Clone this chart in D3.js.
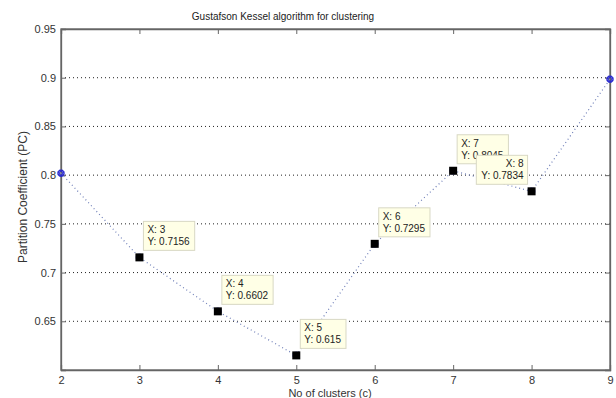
<!DOCTYPE html>
<html>
<head>
<meta charset="utf-8">
<script src="https://cdn.jsdelivr.net/npm/d3@7"></script>
<style>
  body { margin: 0; background: #fff; }
  svg { display: block; font-family: Arial, "Liberation Sans", sans-serif; }
</style>
</head>
<body>
<svg id="chart" width="616" height="398"></svg>
<script>
// data
var clusters = [2, 3, 4, 5, 6, 7, 8, 9];
var pcValues = [0.802, 0.7156, 0.6602, 0.615, 0.7295, 0.8045, 0.7834, 0.8985];
var tipClusters = [3, 4, 5, 6, 7, 8];
var tipLeft = [8]; // this tip sits left of its point
var yTicks = [0.65, 0.7, 0.75, 0.8, 0.85, 0.9, 0.95];
var yTickLabels = ["0.65", "0.7", "0.75", "0.8", "0.85", "0.9", "0.95"];
var xTicks = [2, 3, 4, 5, 6, 7, 8, 9];

var svg = d3.select("#chart");
var plotL = 61, plotR = 610, plotT = 29, plotB = 370;

var x = d3.scaleLinear().domain([2, 9]).range([plotL, plotR]);
var y = d3.scaleLinear().domain([0.6, 0.95]).range([plotB, plotT]);

var pts = clusters.map(function(c, i){ return {c: c, v: pcValues[i]}; });

// horizontal dotted grid
svg.append("g").selectAll("line").data(yTicks.slice(0, -1)).enter().append("line")
	.attr("x1", plotL).attr("x2", plotR)
	.attr("y1", function(d){ return y(d); }).attr("y2", function(d){ return y(d); })
	.attr("stroke", "#222").attr("stroke-width", 1)
	.attr("stroke-dasharray", "1,3");

// axes (ticks inward, mirrored on top/right)
var axisColor = "#666";
var xb = svg.append("g").attr("transform", "translate(0," + plotB + ")")
	.call(d3.axisBottom(x).tickValues(xTicks).tickSize(-5).tickPadding(6).tickFormat(d3.format("d")));
var xt = svg.append("g").attr("transform", "translate(0," + plotT + ")")
	.call(d3.axisTop(x).tickValues(xTicks).tickSize(-5).tickFormat(""));
var yl = svg.append("g").attr("transform", "translate(" + plotL + ",0)")
	.call(d3.axisLeft(y).tickValues(yTicks).tickSize(-5).tickPadding(5)
		.tickFormat(function(d, i){ return yTickLabels[i]; }));
var yr = svg.append("g").attr("transform", "translate(" + plotR + ",0)")
	.call(d3.axisRight(y).tickValues(yTicks).tickSize(-5).tickFormat(""));

[xb, xt, yl, yr].forEach(function(g){
	g.select(".domain").attr("stroke", axisColor).attr("stroke-width", 1.3);
	g.selectAll(".tick line").attr("stroke", axisColor);
	g.selectAll(".tick text").attr("fill", "#333").style("font-size", "11px");
});
svg.append("rect").attr("x", plotL).attr("y", plotT).attr("width", plotR - plotL).attr("height", plotB - plotT)
	.attr("fill", "none").attr("stroke", axisColor).attr("stroke-width", 1.3);

// dotted series line
var line = d3.line().x(function(d){ return x(d.c); }).y(function(d){ return y(d.v); });
svg.append("path").datum(pts)
	.attr("d", line)
	.attr("fill", "none")
	.attr("stroke", "#6f7fb8")
	.attr("stroke-width", 1.2)
	.attr("stroke-dasharray", "1,3");

// star markers (a + and an x on top of each other)
[0, 45].forEach(function(rot){
	svg.append("g").selectAll("path").data(pts).enter().append("path")
		.attr("transform", function(d){ return "translate(" + x(d.c) + "," + y(d.v) + ") rotate(" + rot + ")"; })
		.attr("d", d3.symbol().type(d3.symbolCross).size(22))
		.attr("fill", "none").attr("stroke", "#2a2ad0").attr("stroke-width", 1);
});

// data tips
var tipPts = pts.filter(function(d){ return tipClusters.indexOf(d.c) >= 0; });
tipPts.forEach(function(d){
	var px = x(d.c), py = y(d.v);
	var isLeft = tipLeft.indexOf(d.c) >= 0;
	var g = svg.append("g");
	var t1 = g.append("text").text("X: " + d.c);
	var t2 = g.append("text").text("Y: " + d.v);
	g.selectAll("text").attr("fill", "#222").style("font-size", "10px");
	var w = Math.max(t1.node().getComputedTextLength(), t2.node().getComputedTextLength()) + 9;
	var h = 29;
	var bx = isLeft ? px - 4 - w : px + 4;
	var by = py - 7 - h;
	g.insert("rect", "text").attr("x", bx).attr("y", by).attr("width", w).attr("height", h)
		.attr("fill", "#ffffe6").attr("stroke", "#d8d8c4").attr("stroke-width", 1);
	if (isLeft) {
		t1.attr("text-anchor", "end").attr("x", bx + w - 4);
		t2.attr("text-anchor", "end").attr("x", bx + w - 4);
	} else {
		t1.attr("x", bx + 4);
		t2.attr("x", bx + 4);
	}
	t1.attr("y", by + 12);
	t2.attr("y", by + 24);
	g.append("rect").attr("x", px - 4).attr("y", py - 4).attr("width", 8).attr("height", 8).attr("fill", "#000");
});

// labels
svg.append("text").attr("x", 283).attr("y", 20).attr("text-anchor", "middle")
	.attr("fill", "#222").style("font-size", "10px").text("Gustafson Kessel algorithm for clustering");
svg.append("text").attr("x", 330).attr("y", 396.5).attr("text-anchor", "middle")
	.attr("fill", "#333").style("font-size", "11px").text("No of clusters (c)");
svg.append("text").attr("transform", "translate(27,197) rotate(-90)").attr("text-anchor", "middle")
	.attr("fill", "#333").style("font-size", "12px").text("Partition Coefficient (PC)");
</script>
</body>
</html>
